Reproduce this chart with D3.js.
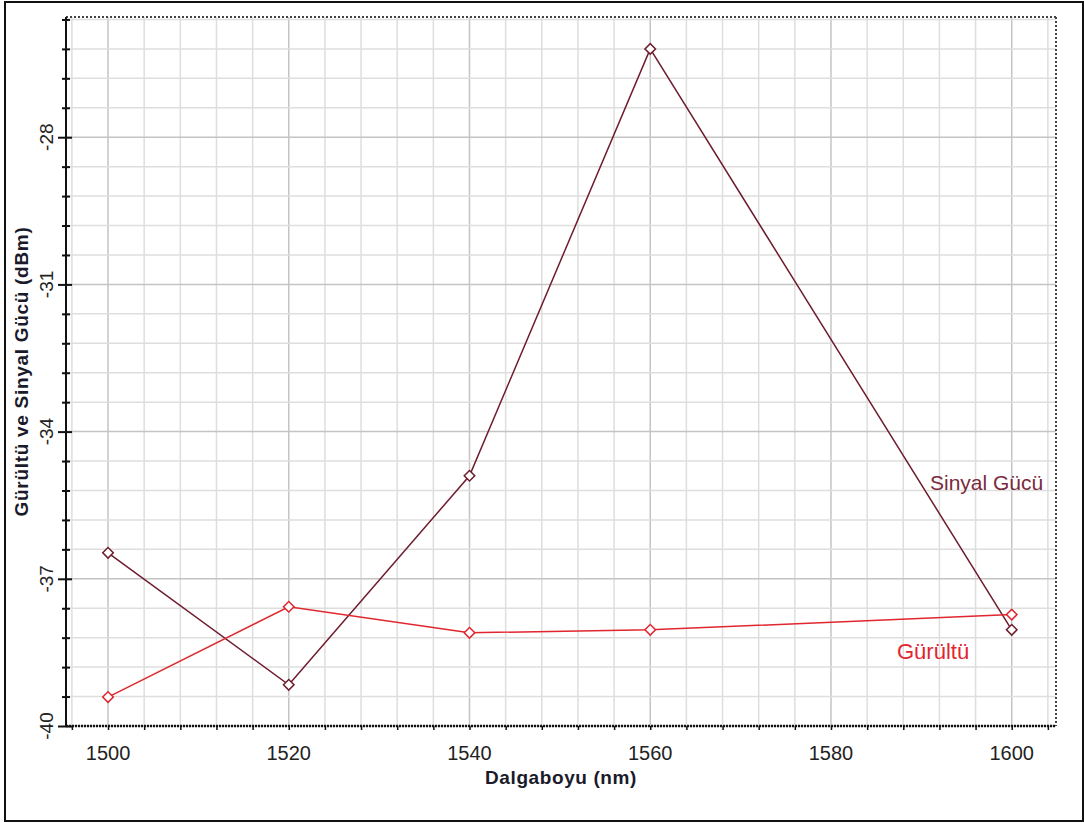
<!DOCTYPE html>
<html>
<head>
<meta charset="utf-8">
<script src="https://cdn.jsdelivr.net/npm/d3@7"></script>
<style>
  html, body { margin: 0; padding: 0; background: #fff; }
  svg { display: block; font-family: "Liberation Sans", Arial, sans-serif; }
</style>
</head>
<body>
<svg id="chart" width="1084" height="823"></svg>
<script>
// Wavelengths (nm)
const wavelengths = [1500, 1520, 1540, 1560, 1600];
// Signal power (dBm)
const signalPower = [-36.47, -39.16, -34.9, -26.2, -38.04];
// Noise (dBm)
const noisePower = [-39.41, -37.57, -38.1, -38.04, -37.73];

const xMajorTicks = [1500, 1520, 1540, 1560, 1580, 1600];
const yMajorTicks = [-40, -37, -34, -31, -28];

const seriesNames = ["Sinyal Gücü", "Gürültü"];
const xTitle = "Dalgaboyu (nm)";
const yTitle = "Gürültü ve Sinyal Gücü (dBm)";

const W = 1084, H = 823;
const plot = { left: 66, top: 17, right: 1056, bottom: 726 };

const svg = d3.select("#chart");

const x = d3.scaleLinear().domain([1495.35, 1604.9]).range([plot.left, plot.right]);
const y = d3.scaleLinear().domain([-40, -25.55]).range([plot.bottom, plot.top]);

// outer frame
svg.append("rect")
  .attr("x", 5).attr("y", 2).attr("width", W - 6).attr("height", H - 4)
  .attr("fill", "none").attr("stroke", "#111").attr("stroke-width", 2);

// grid: every 4 nm and every 0.6 dBm
const xGrid = d3.range(1496, 1605, 4);
const yGrid = d3.range(0, 25).map(i => -40 + i * 0.6).filter(v => v <= -25.5);
const isMajorY = d => yMajorTicks.some(m => Math.abs(m - d) < 1e-6);

const grid = svg.append("g");
grid.selectAll("line.gx").data(xGrid).join("line")
  .attr("x1", d => x(d)).attr("x2", d => x(d))
  .attr("y1", plot.top).attr("y2", plot.bottom)
  .attr("stroke", d => (d % 20 === 0) ? "#c4c4c4" : "#dedede")
  .attr("stroke-width", 1.5);
grid.selectAll("line.gy").data(yGrid).join("line")
  .attr("x1", plot.left).attr("x2", plot.right)
  .attr("y1", d => y(d)).attr("y2", d => y(d))
  .attr("stroke", d => isMajorY(d) ? "#c4c4c4" : "#dedede")
  .attr("stroke-width", 1.5);

// dotted top and right border
svg.append("line").attr("x1", plot.left).attr("x2", plot.right).attr("y1", plot.top).attr("y2", plot.top)
  .attr("stroke", "#444").attr("stroke-width", 2).attr("stroke-dasharray", "2,2");
svg.append("line").attr("x1", plot.right).attr("x2", plot.right).attr("y1", plot.top).attr("y2", plot.bottom)
  .attr("stroke", "#444").attr("stroke-width", 2).attr("stroke-dasharray", "2,2");

// bottom axis
const xAxis = d3.axisBottom(x).tickValues(xGrid).tickSize(4).tickFormat("");
const gx = svg.append("g").attr("transform", `translate(0,${plot.bottom})`).call(xAxis);
gx.select(".domain").attr("stroke", "#111").attr("stroke-width", 2.5).attr("stroke-dasharray", "2,1")
  .attr("d", `M${plot.left},0H${plot.right}`);
gx.selectAll(".tick line").attr("stroke", "#111").attr("stroke-width", 1.5);
svg.append("g").selectAll("text").data(xMajorTicks).join("text")
  .attr("x", d => x(d)).attr("y", 760)
  .attr("text-anchor", "middle").attr("font-size", 20).attr("fill", "#222")
  .text(d => d);

// left axis
const yAxis = d3.axisLeft(y).tickValues(yGrid).tickSize(0).tickFormat("");
const gy = svg.append("g").attr("transform", `translate(${plot.left},0)`).call(yAxis);
gy.select(".domain").attr("stroke", "#111").attr("stroke-width", 2)
  .attr("d", `M0,${plot.top}V${plot.bottom}`);
gy.selectAll(".tick").append("line")
  .attr("x1", d => isMajorY(d) ? -8 : -4)
  .attr("x2", d => isMajorY(d) ? 6 : 4)
  .attr("stroke", "#111").attr("stroke-width", 2);
svg.append("g").selectAll("text").data(yMajorTicks).join("text")
  .attr("transform", d => `translate(53,${y(d)}) rotate(-90)`)
  .attr("text-anchor", "middle").attr("font-size", 19).attr("fill", "#222")
  .text(d => d);

// axis titles
svg.append("text").attr("x", (plot.left + plot.right) / 2).attr("y", 784)
  .attr("text-anchor", "middle").attr("font-size", 19).attr("font-weight", "bold")
  .attr("fill", "#1a1a2a").attr("letter-spacing", 0.6).text(xTitle);
svg.append("text").attr("transform", `translate(28,${(plot.top + plot.bottom) / 2}) rotate(-90)`)
  .attr("text-anchor", "middle").attr("font-size", 19).attr("font-weight", "bold")
  .attr("fill", "#1a1a2a").attr("letter-spacing", 0.7).text(yTitle);

// series
const series = [
  { name: seriesNames[0], values: signalPower, color: "#6e1c2e" },
  { name: seriesNames[1], values: noisePower, color: "#e0262e" }
];
const line = d3.line().x(d => x(d[0])).y(d => y(d[1]));
// square marker turned 45 degrees
const marker = d3.symbol().type(d3.symbolSquare).size(56);

series.forEach(s => {
  const pts = wavelengths.map((w, i) => [w, s.values[i]]);
  svg.append("path").datum(pts)
    .attr("d", line).attr("fill", "none")
    .attr("stroke", s.color).attr("stroke-width", 1.5);
  svg.append("g").selectAll("path").data(pts).join("path")
    .attr("transform", d => `translate(${x(d[0])},${y(d[1])}) rotate(45)`)
    .attr("d", marker).attr("fill", "#fff")
    .attr("stroke", s.color).attr("stroke-width", 1.5);
});

// series labels
svg.append("text").attr("x", 930).attr("y", 490)
  .attr("font-size", 21).attr("fill", "#7a2a3c").text(seriesNames[0]);
svg.append("text").attr("x", 897).attr("y", 659)
  .attr("font-size", 22).attr("fill", "#e0262e").text(seriesNames[1]);
</script>
</body>
</html>
